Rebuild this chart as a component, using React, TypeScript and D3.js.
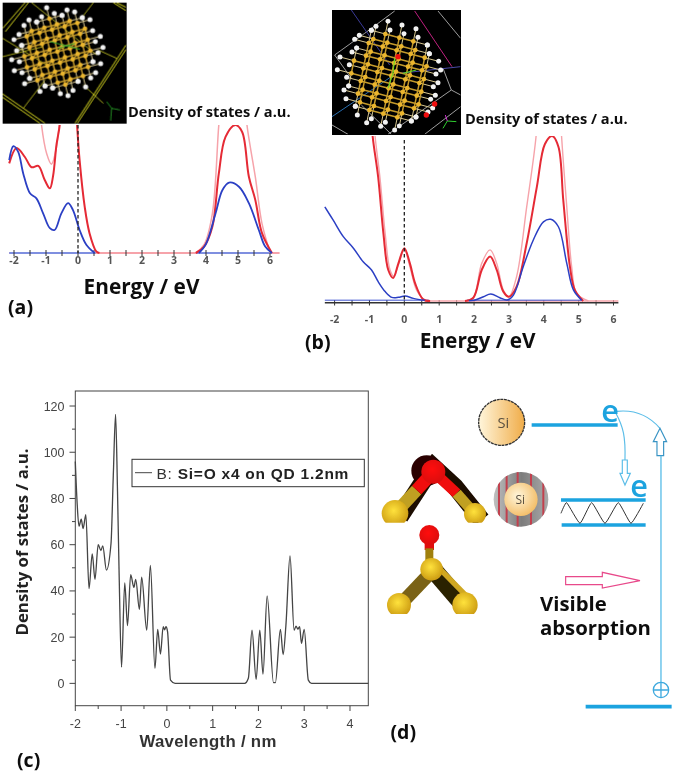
import React from "react";
import * as d3 from "d3";

type P = [number, number];

// ---------- Panel (a) : energy (eV), DOS (a.u., 100 = crop of the frame)
const aRedLeft: P[] = [[-2.15,70],[-1.92,82],[-1.66,75],[-1.45,67],[-1.24,68],[-1.04,57],[-0.88,50.5],[-0.78,60],[-0.67,85],[-0.57,100],[-0.5,125]];
const aRedMid: P[] = [[-0.1,125],[-0.03,100],[0.05,72.5],[0.21,36],[0.36,15.5],[0.57,1.3],[0.67,0]];
const aRedRight: P[] = [[3.68,0],[3.94,5],[4.2,20.7],[4.4,62],[4.61,90.7],[4.92,100],[5.13,94.5],[5.34,59.6],[5.54,41.5],[5.75,15.5],[6.06,0]];
const aPinkLeft: P[] = [[-1.2,120],[-1.14,100],[-0.98,77.7],[-0.83,69.4],[-0.67,83],[-0.59,100],[-0.54,120]];
const aPinkRight: P[] = [[3.68,0],[3.94,6.5],[4.2,31],[4.4,100],[4.5,125]];
const aPinkRight2: P[] = [[5.2,125],[5.28,100],[5.54,59.6],[5.75,23],[6.01,0]];
const aBlueLeft: P[] = [[-2.15,72.5],[-2.02,83.4],[-1.87,79],[-1.71,62],[-1.5,46.6],[-1.3,42.7],[-1.09,31],[-0.88,19.4],[-0.73,18],[-0.52,31],[-0.31,39],[-0.16,33.7],[0.05,18],[0.26,6.5],[0.52,0]];
const aBlueRight: P[] = [[3.78,0],[3.99,6.5],[4.3,31],[4.51,49],[4.72,55],[5.03,51.8],[5.34,38.9],[5.65,18],[5.85,5],[6.06,0]];
const aBlueBase: P[][] = [[[-2.15,0],[0.55,0]],[[3.7,0],[6.05,0]]];
const aPinkBase: P[] = [[-2.15,0],[6.3,0]];
const aTickLabels = [-2,-1,0,1,2,3,4,5,6];
const aMinorTicks = d3.range(-2,6.01,0.5);

// ---------- Panel (b)
const bRed: P[] = [[-1.0,125],[-0.91,100],[-0.75,75],[-0.6,41],[-0.46,18.8],[-0.32,14],[-0.17,22.8],[0,32],[0.16,22.8],[0.31,10.7],[0.54,1],[0.74,0]];
const bRed2: P[] = [[1.74,0],[1.98,2],[2.22,18.8],[2.46,26.9],[2.65,18.8],[2.84,5.7],[3,2.6],[3.22,8.7],[3.51,35],[3.8,69],[4.03,95],[4.24,100],[4.42,93.5],[4.56,61],[4.75,20.8],[4.89,6.7],[5.13,0]];
const bPink: P[] = [[-0.93,125],[-0.84,100],[-0.7,75],[-0.55,41],[-0.41,18.8],[-0.3,15],[-0.17,22],[0,31],[0.16,20.8],[0.35,6.7],[0.59,0]];
const bPink2: P[] = [[1.74,0],[1.98,2],[2.22,22.8],[2.46,31],[2.65,22.8],[2.84,6.7],[3,2.6],[3.22,14.7],[3.51,57],[3.78,100],[3.85,125]];
const bPink3: P[] = [[4.45,125],[4.51,100],[4.66,57],[4.8,20.8],[4.94,4.6],[5.28,0]];
const bBlue: P[] = [[-2.28,57],[-2.04,49],[-1.75,39],[-1.46,32],[-1.18,23.8],[-0.94,18.8],[-0.75,11.7],[-0.55,5.7],[-0.36,2.2],[-0.17,2.2],[0.02,3],[0.26,1.6],[0.59,0.4]];
const bBlue2: P[] = [[1.85,0.2],[2.03,0.6],[2.27,2.6],[2.48,4.2],[2.74,2],[2.95,0.6],[3.13,3.6],[3.41,20.8],[3.7,37],[3.99,48],[4.2,49.5],[4.42,45],[4.66,22.8],[4.85,6.7],[5.09,0.4]];
const bBlueBase: P[][] = [[[-2.28,1],[0.7,1]],[[1.8,1],[5.1,1]]];
const bPinkBase: P[] = [[0.6,0],[6.14,0]];
const bTickLabels = [-2,-1,0,1,2,3,4,5,6];
const bMinorTicks = d3.range(-2,6.01,0.5);

// ---------- Panel (c)
const cSeries: P[] = [[-2,96],[-1.96,78],[-1.92,68],[-1.87,71],[-1.83,67],[-1.77,73],[-1.7,41],[-1.63,56],[-1.57,45],[-1.5,60],[-1.44,57.5],[-1.4,59.5],[-1.32,49],[-1.22,60.5],[-1.17,90],[-1.12,116.4],[-1.08,85],[-1.04,44.7],[-0.99,7],[-0.92,43.5],[-0.86,25],[-0.79,47],[-0.72,41.5],[-0.68,45],[-0.6,32],[-0.55,46],[-0.44,23],[-0.36,51],[-0.26,6.5],[-0.2,23.4],[-0.14,12.7],[-0.08,24.5],[-0.05,23.2],[-0.02,24.5],[0.015,22.4],[0.08,1.4],[0.18,0],[1.7,0],[1.78,2.2],[1.86,23],[1.95,1.7],[2.03,23],[2.1,4],[2.19,37.8],[2.33,0.3],[2.37,0.3],[2.48,23.4],[2.54,12.5],[2.6,25],[2.69,55.2],[2.78,23],[2.82,24.8],[2.86,23.5],[2.9,24.5],[2.94,17.3],[3,23.4],[3.09,1.4],[3.16,0],[4.4,0]];
const cXTicks = [-2,-1,0,1,2,3,4];
const cXMinor = [-1.5,-0.5,0.5,1.5,2.5,3.5];
const cYTicks = [0,20,40,60,80,100,120];
const cYMinor = [10,30,50,70,90,110];

// ---------- Insets, drawn in the 3x zoom frame
type L = [number, number, number, number];
const insetAFrame = [8,8,370,362];
const insetALinesThick: L[] = [[8,85,75,8],[16,95,85,8],[225,370,378,135],[232,370,378,148],[8,282,135,370],[8,292,120,370],[340,8,378,32],[350,8,378,22]];
const insetALines: L[] = [[8,115,140,195],[8,170,130,140],[95,8,290,165],[280,8,240,60],[250,255,310,310],[70,325,135,240],[295,150,350,175]];
const insetBFrame = [12,15,386,373];
const insetBWhite: L[] = [[20,150,110,85],[110,85,200,18],[330,18,398,100],[370,255,398,270],[370,255,180,388],[290,388,398,305],[20,150,70,220],[100,300,190,388],[12,360,60,388],[345,190,370,255]];
const insetBColor: [number,number,number,number,string][] = [[260,18,372,185,"#c02080"],[70,15,185,180,"#3a3a9a"],[215,205,398,185,"#4a4aa8"],[12,335,190,215,"#2a6fb0"]];
const insetBRed: P[] = [[210,155],[320,297],[295,330]];

const zigzag: P[] = [[558,370],[575,338],[615,400],[650,338],[690,400],[730,338],[768,400],[805,340]];
const stripeX = [372,395,428,468,505];

const BLUE = "#1ca3df", LBLUE = "#5bbde8";
const UI = "'Open Sans', 'Noto Sans', sans-serif";
const ARIAL = "'Liberation Sans', Arial, sans-serif";

function lat(cx:number,cy:number,u:P,v:P,w:P,R:number,Rh:number){
  const key=(i:number,j:number,k:number)=>`${i},${j},${k}`;
  const pos=(i:number,j:number,k:number):P=>[cx+i*u[0]+j*v[0]+k*w[0],cy+i*u[1]+j*v[1]+k*w[1]];
  const gold=new Map<string,P>(); const h:P[]=[]; const bonds:[P,P][]=[]; const hb:[P,P][]=[];
  const n=8;
  for(let k=0;k<=1;k++)for(let i=-n;i<=n;i++)for(let j=-n;j<=n;j++){const p=pos(i,j,k);if(Math.hypot(p[0]-cx,p[1]-cy)<R)gold.set(key(i,j,k),p);}
  const nb=[[1,0,0],[0,1,0],[0,0,1]];
  for(let k=0;k<=1;k++)for(let i=-n;i<=n;i++)for(let j=-n;j<=n;j++){
    const p=gold.get(key(i,j,k)); if(!p)continue;
    for(const [a,b,c] of nb){const q=gold.get(key(i+a,j+b,k+c)); if(q)bonds.push([p,q]);}
    for(const [a,b] of [[1,0],[-1,0],[0,1],[0,-1]]){
      if(!gold.has(key(i+a,j+b,k))){const q=pos(i+a,j+b,k);const d=Math.hypot(q[0]-cx,q[1]-cy);if(d<Rh){h.push(q);hb.push([p,q]);}}
    }
  }
  return {atoms:[...gold.values()],h,bonds,hb};
}

function Cluster({c}:{c:ReturnType<typeof lat>}){
  return <g>
    {c.hb.map((b,i)=><line key={i} x1={b[0][0]} y1={b[0][1]} x2={b[1][0]} y2={b[1][1]} stroke="#d8c890" strokeWidth={3}/>)}
    {c.bonds.map((b,i)=><line key={i} x1={b[0][0]} y1={b[0][1]} x2={b[1][0]} y2={b[1][1]} stroke="#c49a2c" strokeWidth={4.5}/>)}
    {c.atoms.map((p,i)=><circle key={i} cx={p[0]} cy={p[1]} r={7} fill="#eab52f"/>)}
    {c.h.map((p,i)=><circle key={i} cx={p[0]} cy={p[1]} r={7.5} fill="#f2f2f2"/>)}
  </g>;
}

function Panel({id,x,y,groups,clipTop}:{id:string;x:d3.ScaleLinear<number,number>;y:d3.ScaleLinear<number,number>;groups:{d:P[];c:string;w:number}[];clipTop:number}){
  const gen=d3.line<P>().x(d=>x(d[0])).y(d=>y(d[1])).curve(d3.curveCatmullRom.alpha(0.5));
  return <g>
    <clipPath id={id}><rect x={0} y={clipTop} width={675} height={300}/></clipPath>
    <g clipPath={`url(#${id})`}>
      {groups.map((g,i)=><path key={i} d={gen(g.d)||""} fill="none" stroke={g.c} strokeWidth={g.w}/>)}
    </g>
  </g>;
}

const RED="#e52a35", PINK="#f6a3aa", IND="#2c3fc4";

export default function App(){
  // (a)
  const ax=d3.scaleLinear().domain([-2,6]).range([14,270]);
  const ay=d3.scaleLinear().domain([0,100]).range([253,125]);
  // (b)
  const bx=d3.scaleLinear().domain([-2,6]).range([334.6,613.5]);
  const by=d3.scaleLinear().domain([0,100]).range([301,136]);
  // (c)
  const cx=d3.scaleLinear().domain([-2,4.4]).range([75.3,368.3]);
  const cy=d3.scaleLinear().domain([-9.66,126.5]).range([705.7,391]);
  const cLine=d3.line<P>().x(d=>cx(d[0])).y(d=>cy(d[1])).curve(d3.curveMonotoneX);

  const clA=lat(172,155,[38,-10],[8,33],[15,-16],108,142);
  const clB=lat(190,212,[42,11],[-8,38],[14,-12],128,165);

  return <svg width={675} height={775} viewBox="0 0 675 775" style={{position:"absolute",left:0,top:0,background:"#fff"}}>
    <defs>
      <filter id="soft" x="-2%" y="-2%" width="104%" height="104%"><feGaussianBlur stdDeviation="0.35"/></filter>
      <filter id="soft2" x="-2%" y="-2%" width="104%" height="104%"><feGaussianBlur stdDeviation="1.2"/></filter>
      <linearGradient id="siG" x1="0" x2="1"><stop offset="0" stopColor="#fff6dc"/><stop offset="1" stopColor="#f0ac48"/></linearGradient>
      <radialGradient id="siG2" cx="0.4" cy="0.4" r="0.7"><stop offset="0" stopColor="#fff6dc"/><stop offset="1" stopColor="#f2b85c"/></radialGradient>
      <radialGradient id="gold" cx="0.45" cy="0.4" r="0.65"><stop offset="0" stopColor="#ffe23c"/><stop offset="1" stopColor="#c8960f"/></radialGradient>
      <radialGradient id="red" cx="0.45" cy="0.4" r="0.65"><stop offset="0" stopColor="#ff1010"/><stop offset="1" stopColor="#d80808"/></radialGradient>
      <linearGradient id="shell" x1="0" x2="1"><stop offset="0" stopColor="#c4c4c4"/><stop offset="0.5" stopColor="#7c7c7c"/><stop offset="1" stopColor="#b0b0b0"/></linearGradient>
      <clipPath id="shellClip"><circle cx={438} cy={328} r={82}/></clipPath>
      <clipPath id="mol1"><rect x={0} y={0} width={450} height={218}/></clipPath>
      <clipPath id="mol2"><rect x={0} y={220} width={450} height={272}/></clipPath>
      <clipPath id="inA"><rect x={insetAFrame[0]} y={insetAFrame[1]} width={insetAFrame[2]} height={insetAFrame[3]}/></clipPath>
      <clipPath id="inB"><rect x={insetBFrame[0]} y={insetBFrame[1]} width={insetBFrame[2]} height={insetBFrame[3]}/></clipPath>
    </defs>

    <g filter="url(#soft)">
      {/* Panel a */}
      <path d={`M${ax(aPinkBase[0][0])},${ay(0)}H${ax(aPinkBase[1][0])}`} stroke={PINK} strokeWidth={2}/>
      {aBlueBase.map((s,i)=><path key={i} d={`M${ax(s[0][0])},${ay(0)}H${ax(s[1][0])}`} stroke="#7f8fe0" strokeWidth={1.8}/>)}
      {aMinorTicks.map(t=><line key={t} x1={ax(t)} x2={ax(t)} y1={250} y2={256} stroke="#333" strokeWidth={1}/>)}
      <Panel id="ca" x={ax} y={ay} clipTop={125} groups={[
        {d:aPinkLeft,c:PINK,w:1.5},{d:aPinkRight,c:PINK,w:1.5},{d:aPinkRight2,c:PINK,w:1.5},
        {d:aRedLeft,c:RED,w:2},{d:aRedMid,c:RED,w:2},{d:aRedRight,c:RED,w:2},
        {d:aBlueLeft,c:IND,w:1.8},{d:aBlueRight,c:IND,w:1.8}]}/>
      <line x1={ax(0)} x2={ax(0)} y1={125} y2={253} stroke="#222" strokeWidth={1.3} strokeDasharray="3.5 2.5"/>
      {aTickLabels.map(t=><text key={t} x={ax(t)} y={260} dy="0.36em" textAnchor="middle" fontFamily={UI} fontWeight={700} fontSize={10.5} fill="#555">{t}</text>)}
      <text x={141.5} y={287} dy="0.36em" textAnchor="middle" fontFamily={UI} fontWeight={700} fontSize={20.8} fill="#111">Energy / eV</text>
      <text x={8} y={307} dy="0.36em" fontFamily={UI} fontWeight={700} fontSize={19.5} fill="#111">(a)</text>
      <text x={128} y={112} dy="0.36em" fontFamily={UI} fontWeight={700} fontSize={14.6} fill="#111">Density of states / a.u.</text>

      {/* Panel b */}
      <line x1={bx(-2.28)} x2={bx(6.14)} y1={302.8} y2={302.8} stroke="#333" strokeWidth={1.4}/>
      {bMinorTicks.map(t=><line key={t} x1={bx(t)} x2={bx(t)} y1={300} y2={305.5} stroke="#333" strokeWidth={1}/>)}
      <path d={`M${bx(bPinkBase[0][0])},${by(0)}H${bx(bPinkBase[1][0])}`} stroke={PINK} strokeWidth={1.6}/>
      {bBlueBase.map((s,i)=><path key={i} d={`M${bx(s[0][0])},${by(0.5)}H${bx(s[1][0])}`} stroke="#3f55d0" strokeWidth={1}/>)}
      <Panel id="cb" x={bx} y={by} clipTop={136} groups={[
        {d:bPink,c:PINK,w:1.4},{d:bPink2,c:PINK,w:1.4},{d:bPink3,c:PINK,w:1.4},
        {d:bRed,c:RED,w:2},{d:bRed2,c:RED,w:2},
        {d:bBlue,c:IND,w:1.5},{d:bBlue2,c:IND,w:1.5}]}/>
      <line x1={bx(0)} x2={bx(0)} y1={140} y2={300} stroke="#222" strokeWidth={1.3} strokeDasharray="3.5 2.5"/>
      {bTickLabels.map(t=><text key={t} x={bx(t)} y={319} dy="0.36em" textAnchor="middle" fontFamily={UI} fontWeight={700} fontSize={10.5} fill="#555">{t}</text>)}
      <text x={477.7} y={340.5} dy="0.36em" textAnchor="middle" fontFamily={UI} fontWeight={700} fontSize={20.8} fill="#111">Energy / eV</text>
      <text x={305} y={342} dy="0.36em" fontFamily={UI} fontWeight={700} fontSize={19.5} fill="#111">(b)</text>
      <text x={465} y={119} dy="0.36em" fontFamily={UI} fontWeight={700} fontSize={14.6} fill="#111">Density of states / a.u.</text>

      {/* Panel c */}
      <rect x={cx(-2)} y={cy(126.5)} width={cx(4.4)-cx(-2)} height={cy(-9.66)-cy(126.5)} fill="none" stroke="#444" strokeWidth={1}/>
      {cXTicks.map(t=><g key={t}>
        <line x1={cx(t)} x2={cx(t)} y1={705.7} y2={711} stroke="#444"/>
        <text x={cx(t)} y={723} dy="0.36em" textAnchor="middle" fontFamily={ARIAL} fontSize={12.5} fill="#444">{t}</text>
      </g>)}
      {cXMinor.map(t=><line key={t} x1={cx(t)} x2={cx(t)} y1={705.7} y2={709} stroke="#444"/>)}
      {cYTicks.map(t=><g key={t}>
        <line x1={75.3} x2={69.5} y1={cy(t)} y2={cy(t)} stroke="#444"/>
        <text x={64.5} y={cy(t)} dy="0.36em" textAnchor="end" fontFamily={ARIAL} fontSize={12.5} fill="#444">{t}</text>
      </g>)}
      {cYMinor.map(t=><line key={t} x1={75.3} x2={72} y1={cy(t)} y2={cy(t)} stroke="#444"/>)}
      <path d={cLine(cSeries)||""} fill="none" stroke="#444" strokeWidth={1.3}/>
      <rect x={132} y={459.3} width={232.3} height={27.4} fill="#fff" stroke="#333" strokeWidth={1}/>
      <line x1={135} x2={152} y1={472.7} y2={472.7} stroke="#444"/>
      <text x={156.5} y={473} dy="0.36em" fontFamily={ARIAL} fontSize={15.5} fill="#333" letterSpacing={0.75}>B: <tspan fontWeight={700} fill="#222">Si=O x4 on QD 1.2nm</tspan></text>
      <text transform="translate(22,542) rotate(-90)" dy="0.36em" textAnchor="middle" fontFamily={UI} fontWeight={700} fontSize={16.8} fill="#222">Density of states / a.u.</text>
      <text x={208} y={741} dy="0.36em" textAnchor="middle" fontFamily={ARIAL} fontWeight={700} fontSize={16.8} fill="#333" letterSpacing={0.3}>Wavelength / nm</text>
      <text x={17} y={760} dy="0.36em" fontFamily={UI} fontWeight={700} fontSize={19.5} fill="#111">(c)</text>
      <text x={390.5} y={732} dy="0.36em" fontFamily={UI} fontWeight={700} fontSize={19.5} fill="#111">(d)</text>

      {/* Panel d : scheme */}
      <g transform="translate(375,390) scale(0.3333)">
        <circle cx={380} cy={97} r={69} fill="url(#siG)" stroke="#333" strokeWidth={4} strokeDasharray="9 2"/>
        <text x={385} y={97} dy="0.36em" textAnchor="middle" fontFamily={UI} fontSize={44} fill="#5a5040">Si</text>
        <line x1={470} x2={728} y1={105} y2={105} stroke={BLUE} strokeWidth={11}/>
        <path d="M722,68C745,110 752,140 750,210" fill="none" stroke={LBLUE} strokeWidth={3.5}/>
        <path d="M742,210H757V250H766L750,285L735,250H742Z" fill="#fff" stroke={LBLUE} strokeWidth={3.5}/>
        <path d="M725,64C780,58 825,80 855,115" fill="none" stroke={LBLUE} strokeWidth={3.5}/>
        <path d="M855,115L875,155H866V197H846V155H835Z" fill="#fff" stroke="#3793c4" strokeWidth={3.5}/>
        <line x1={858} x2={858} y1={197} y2={876} stroke={LBLUE} strokeWidth={4}/>
        <circle cx={858} cy={900} r={23} fill="#fff" stroke="#3ea9de" strokeWidth={4}/>
        <path d="M835,900H881M858,877V923" stroke="#3ea9de" strokeWidth={4}/>
        <line x1={632} x2={890} y1={950} y2={950} stroke={BLUE} strokeWidth={11}/>
        <text x={705} y={62} dy="0.36em" textAnchor="middle" fontFamily={UI} fontWeight={600} fontSize={92} fill={BLUE}>e</text>
        <text x={792} y={288} dy="0.36em" textAnchor="middle" fontFamily={UI} fontWeight={600} fontSize={92} fill={BLUE}>e</text>
        <line x1={558} x2={812} y1={330} y2={330} stroke={BLUE} strokeWidth={11}/>
        <line x1={560} x2={812} y1={405} y2={405} stroke={BLUE} strokeWidth={11}/>
        <path d={d3.line<P>().curve(d3.curveCardinal.tension(0.6))(zigzag)||""} fill="none" stroke="#333" strokeWidth={3}/>
        <g clipPath="url(#shellClip)">
          <rect x={350} y={240} width={180} height={180} fill="url(#shell)"/>
          {stripeX.map(x=><rect key={x} x={x-3} y={240} width={6} height={180} fill="#c2404e"/>)}
        </g>
        <circle cx={438} cy={328} r={50} fill="url(#siG2)"/>
        <text x={436} y={328} dy="0.36em" textAnchor="middle" fontFamily={UI} fontSize={36} fill="#5a5040">Si</text>
        <path d="M572,560H682V547L795,572L682,594V584H572Z" fill="#fff" stroke="#e8488a" strokeWidth={3.5}/>
        <text x={495} y={640} dy="0.36em" fontFamily={UI} fontWeight={700} fontSize={61} fill="#111">Visible</text>
        <text x={495} y={712} dy="0.36em" fontFamily={UI} fontWeight={700} fontSize={61} fill="#111">absorption</text>
      </g>

      {/* molecules */}
      <g transform="translate(375,450) scale(0.3333)" filter="url(#soft2)">
        <g clipPath="url(#mol1)">
          <path d="M75,200L150,85L175,50L240,110L320,210" fill="none" stroke="#1c0c00" strokeWidth={52}/>
          <circle cx={155} cy={62} r={46} fill="#2a0303"/>
          <line x1={60} y1={190} x2={125} y2={120} stroke="#c0a020" strokeWidth={38}/>
          <line x1={125} y1={120} x2={175} y2={65} stroke="#f00808" strokeWidth={38}/>
          <line x1={175} y1={65} x2={245} y2={130} stroke="#f00808" strokeWidth={32}/>
          <line x1={245} y1={130} x2={300} y2={192} stroke="#c0a020" strokeWidth={32}/>
          <circle cx={60} cy={190} r={40} fill="url(#gold)"/>
          <circle cx={300} cy={192} r={33} fill="url(#gold)"/>
          <circle cx={175} cy={65} r={36} fill="url(#red)"/>
        </g>
        <g clipPath="url(#mol2)">
          <line x1={163} y1={255} x2={163} y2={300} stroke="#e00a0a" strokeWidth={28}/>
          <line x1={163} y1={295} x2={163} y2={330} stroke="#a08010" strokeWidth={24}/>
          <circle cx={163} cy={255} r={30} fill="url(#red)"/>
          <line x1={170} y1={365} x2={70} y2={470} stroke="#7a6212" strokeWidth={40}/>
          <line x1={180} y1={365} x2={270} y2={470} stroke="#2a2005" strokeWidth={54}/>
          <line x1={190} y1={352} x2={288} y2={452} stroke="#d0a820" strokeWidth={16}/>
          <circle cx={170} cy={358} r={34} fill="url(#gold)"/>
          <circle cx={72} cy={465} r={36} fill="url(#gold)"/>
          <circle cx={270} cy={465} r={38} fill="url(#gold)"/>
        </g>
      </g>

      {/* inset a */}
      <g transform="scale(0.3333)">
        <rect x={insetAFrame[0]} y={insetAFrame[1]} width={insetAFrame[2]} height={insetAFrame[3]} fill="#000"/>
        <g clipPath="url(#inA)">
          {insetALines.map((l,i)=><line key={i} x1={l[0]} y1={l[1]} x2={l[2]} y2={l[3]} stroke="#c8c81e" strokeWidth={2.5}/>)}
          {insetALinesThick.map((l,i)=><line key={i} x1={l[0]} y1={l[1]} x2={l[2]} y2={l[3]} stroke="#d8d820" strokeWidth={3}/>)}
          <Cluster c={clA}/>
          <path d="M150,125L240,148M175,145L225,130" stroke="#2aa02a" strokeWidth={3}/>
          <path d="M335,325L360,330M335,325L320,305M335,325L332,362" stroke="#30d030" strokeWidth={2}/>
        </g>
      </g>

      {/* inset b */}
      <g transform="translate(328,5) scale(0.3333)">
        <rect x={insetBFrame[0]} y={insetBFrame[1]} width={insetBFrame[2]} height={insetBFrame[3]} fill="#000"/>
        <g clipPath="url(#inB)">
          {insetBWhite.map((l,i)=><line key={i} x1={l[0]} y1={l[1]} x2={l[2]} y2={l[3]} stroke="#bdbdbd" strokeWidth={2.5}/>)}
          {insetBColor.map((l,i)=><line key={i} x1={l[0]} y1={l[1]} x2={l[2]} y2={l[3]} stroke={l[4]} strokeWidth={3}/>)}
          <Cluster c={clB}/>
          {insetBRed.map((p,i)=><circle key={i} cx={p[0]} cy={p[1]} r={8} fill="#f01010"/>)}
          <path d="M200,160L195,205L180,250" stroke="#60e020" strokeWidth={3} fill="none"/>
          <path d="M225,205L265,195" stroke="#60e020" strokeWidth={3}/>
          <path d="M358,348L345,370M358,348L385,350" stroke="#30d030" strokeWidth={3}/>
          <path d="M358,348L352,330" stroke="#d030d0" strokeWidth={3}/>
        </g>
      </g>
    </g>
  </svg>;
}
